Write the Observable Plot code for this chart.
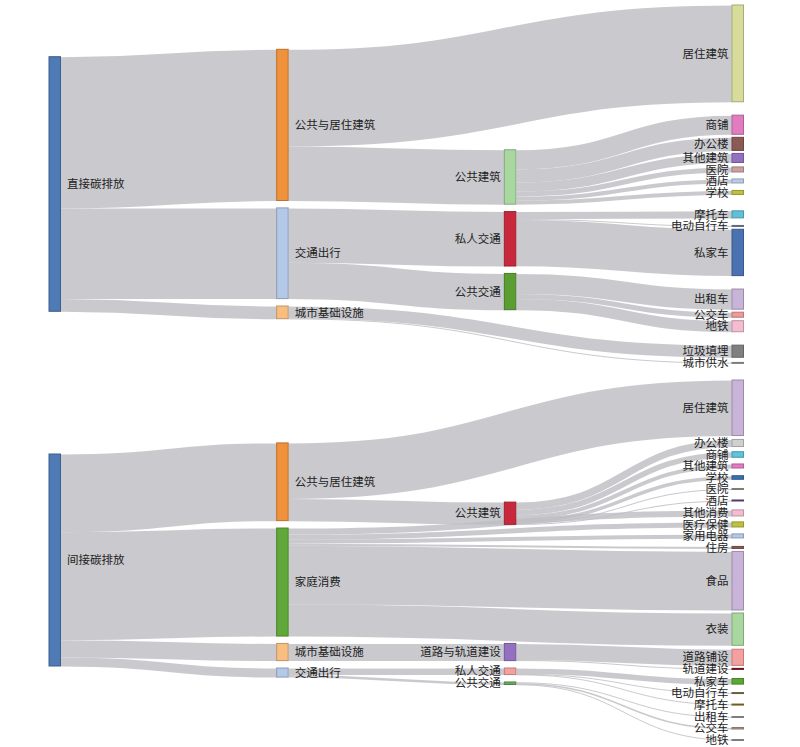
<!DOCTYPE html>
<html><head><meta charset="utf-8">
<script src="https://cdn.jsdelivr.net/npm/d3@7"></script>
<script src="https://cdn.jsdelivr.net/npm/@observablehq/plot@0.6"></script>
<style>body{margin:0;background:#fff}</style>
</head><body><div id="chart"></div>
<script>
// ---------- DATA: 直接碳排放 (top) ----------
const topNodes = ["直接碳排放","公共与居住建筑","交通出行","城市基础设施","公共建筑","私人交通","公共交通",
  "居住建筑","商铺","办公楼","其他建筑","医院","酒店","学校","摩托车","电动自行车","私家车","出租车","公交车","地铁","垃圾填埋","城市供水"];
const topSource = ["直接碳排放","直接碳排放","直接碳排放","公共与居住建筑","公共与居住建筑","交通出行","交通出行","城市基础设施","城市基础设施",
  "公共建筑","公共建筑","公共建筑","公共建筑","公共建筑","公共建筑","私人交通","私人交通","私人交通","公共交通","公共交通","公共交通"];
const topTarget = ["公共与居住建筑","交通出行","城市基础设施","居住建筑","公共建筑","私人交通","公共交通","垃圾填埋","城市供水",
  "商铺","办公楼","其他建筑","医院","酒店","学校","摩托车","电动自行车","私家车","出租车","公交车","地铁"];
const topValue = [150,90,12.6,96,54,54,36,12,0.6,19,13,9,5,4,4,7,0.8,46,20,5,11];

// ---------- DATA: 间接碳排放 (bottom) ----------
const botNodes = ["间接碳排放","公共与居住建筑","家庭消费","城市基础设施","交通出行","公共建筑","道路与轨道建设","私人交通","公共交通",
  "居住建筑","办公楼","商铺","其他建筑","学校","医院","酒店","其他消费","医疗保健","家用电器","住房","食品","衣装",
  "道路铺设","轨道建设","私家车","电动自行车","摩托车","出租车","公交车","地铁"];
const botSource = ["间接碳排放","间接碳排放","间接碳排放","间接碳排放","公共与居住建筑","公共与居住建筑",
  "公共建筑","公共建筑","公共建筑","公共建筑","公共建筑","公共建筑",
  "家庭消费","家庭消费","家庭消费","家庭消费","家庭消费","家庭消费",
  "城市基础设施","道路与轨道建设","道路与轨道建设","交通出行","交通出行",
  "私人交通","私人交通","私人交通","公共交通","公共交通","公共交通"];
const botTarget = ["公共与居住建筑","家庭消费","城市基础设施","交通出行","居住建筑","公共建筑",
  "办公楼","商铺","其他建筑","学校","医院","酒店",
  "其他消费","医疗保健","家用电器","住房","食品","衣装",
  "道路与轨道建设","道路铺设","轨道建设","私人交通","公共交通",
  "私家车","电动自行车","摩托车","出租车","公交车","地铁"];
const botValue = [77,107,17,9,55,22, 7,5.5,4,3.5,1,1, 6,5,4,2,58,32, 17,16,1,6.5,2.5, 5.5,0.5,0.5,0.5,1.5,0.5];

// ---------- STYLE ----------
const topColors = {"直接碳排放":"#4e7ab5","公共与居住建筑":"#f0913b","交通出行":"#b4c8e8","城市基础设施":"#f8bd80",
  "公共建筑":"#a8d8a0","私人交通":"#c8283c","公共交通":"#5a9e32","居住建筑":"#d8dc9a","商铺":"#e07cbf","办公楼":"#8a5a55",
  "其他建筑":"#9470c0","医院":"#c9a0a0","酒店":"#b8cce8","学校":"#c0c040","摩托车":"#60c0d8","电动自行车":"#7a8a9a",
  "私家车":"#4a72b0","出租车":"#c8b4d8","公交车":"#f09a98","地铁":"#f4bcd0","垃圾填埋":"#808080","城市供水":"#a0a0a0"};
const botColors = {"间接碳排放":"#4e7ab5","公共与居住建筑":"#f0913b","家庭消费":"#60a83a","城市基础设施":"#f8bd80","交通出行":"#b4c8e8",
  "公共建筑":"#c8283c","道路与轨道建设":"#9470c0","私人交通":"#f4a09e","公共交通":"#6aaa5a","居住建筑":"#c8b4d8","办公楼":"#d0d0d0",
  "商铺":"#5cc4dc","其他建筑":"#e07cbf","学校":"#3c70b0","医院":"#a0a090","酒店":"#6a4a90","其他消费":"#f4bcd0","医疗保健":"#c0c040",
  "家用电器":"#b4c8e8","住房":"#8a5a55","食品":"#c8b4d8","衣装":"#a8d8a0","道路铺设":"#f4a09e","轨道建设":"#8b1a2a","私家车":"#5aa832",
  "电动自行车":"#8a7a50","摩托车":"#8a7a30","出租车":"#a0a0a8","公交车":"#b09890","地铁":"#a0a0a8"};

const NODE_W = 11.5, PAD = 7.4, LABEL_H = 11.5, GMIN = 3, FONT = 11.5;

// ---------- Sankey layout (justified columns, link order = data order) ----------
function sankeyLayout(names, src, tgt, val, X0, X1, Y0, Y1) {
  const nodes = names.map((name, index) => ({name, index, sourceLinks: [], targetLinks: []}));
  const byName = new Map(nodes.map(n => [n.name, n]));
  const links = src.map((s, i) => ({source: byName.get(s), target: byName.get(tgt[i]), value: val[i], index: i}));
  for (const l of links) { l.source.sourceLinks.push(l); l.target.targetLinks.push(l); }
  for (const n of nodes) n.value = Math.max(d3.sum(n.sourceLinks, l => l.value), d3.sum(n.targetLinks, l => l.value));
  let current = new Set(nodes), next = new Set(), x = 0;
  while (current.size) {
    for (const n of current) { n.depth = x; for (const l of n.sourceLinks) next.add(l.target); }
    x++; current = next; next = new Set();
  }
  const nCols = d3.max(nodes, n => n.depth) + 1;
  const kx = (X1 - X0 - NODE_W) / (nCols - 1);
  for (const n of nodes) { n.layer = n.sourceLinks.length ? n.depth : nCols - 1; n.x0 = X0 + n.layer * kx; n.x1 = n.x0 + NODE_W; }
  const columns = d3.range(nCols).map(i => nodes.filter(n => n.layer === i));
  const py = PAD;
  const ky = d3.min(columns, c => (Y1 - Y0 - (c.length - 1) * py) / d3.sum(c, d => d.value));
  for (const l of links) l.width = l.value * ky;
  const place = (n, y) => { n.y0 = y; n.y1 = y + n.value * ky; };
  // first column: centred in the extent
  const c0 = columns[0];
  let y = Y0 + (Y1 - Y0 - (d3.sum(c0, d => d.value) * ky + (c0.length - 1) * py)) / 2;
  for (const n of c0) { place(n, y); y = n.y1 + py; }
  // last column: label-aware gaps, spare room between groups of different parents
  const cl = columns[nCols - 1];
  const hs = cl.map(n => n.value * ky);
  const base = [], grp = [];
  for (let i = 0; i < cl.length - 1; ++i) {
    base.push(Math.max(GMIN, LABEL_H - (hs[i] + hs[i + 1]) / 2));
    grp.push(cl[i].targetLinks[0].source !== cl[i + 1].targetLinks[0].source);
  }
  const free = (Y1 - Y0) - d3.sum(hs) - d3.sum(base);
  const nb = grp.filter(Boolean).length;
  const gaps = free >= 0
    ? base.map((g, i) => g + (nb ? (grp[i] ? free / nb : 0) : free / base.length))
    : base.map(g => g * (Y1 - Y0 - d3.sum(hs)) / d3.sum(base));
  y = Y0;
  cl.forEach((n, i) => { place(n, y); y = n.y1 + (gaps[i] || 0); });
  // middle columns: follow incoming links, then resolve collisions
  function targetTop(source, target) {
    let t = source.y0 - (source.sourceLinks.length - 1) * py / 2;
    for (const l of source.sourceLinks) { if (l.target === target) break; t += l.width + py; }
    for (const l of target.targetLinks) { if (l.source === source) break; t -= l.width; }
    return t;
  }
  for (let i = 1; i < nCols - 1; ++i) {
    const col = columns[i];
    for (const n of col) {
      place(n, d3.sum(n.targetLinks, l => targetTop(l.source, n) * l.value) / d3.sum(n.targetLinks, l => l.value));
    }
    let yy = Y0;
    for (const n of col) { if (n.y0 < yy) place(n, yy); yy = n.y1 + py; }
    yy = Y1;
    for (let j = col.length - 1; j >= 0; --j) { const n = col[j]; if (n.y1 > yy) place(n, yy - n.value * ky); yy = n.y0 - py; }
  }
  for (const n of nodes) {
    let a = n.y0, b = n.y0;
    for (const l of n.sourceLinks) { l.y0 = a + l.width / 2; a += l.width; }
    for (const l of n.targetLinks) { l.y1 = b + l.width / 2; b += l.width; }
  }
  return {nodes, links, nCols};
}

const T = sankeyLayout(topNodes, topSource, topTarget, topValue, 49, 743.5, 5, 363);
const B = sankeyLayout(botNodes, botSource, botTarget, botValue, 49, 743.5, 380, 740);
T.nodes.forEach(n => n.color = topColors[n.name]);
B.nodes.forEach(n => n.color = botColors[n.name]);
const allNodes = [...T.nodes.map(n => ({...n, nCols: T.nCols})), ...B.nodes.map(n => ({...n, nCols: B.nCols}))];
const allLinks = [...T.links, ...B.links];
const leftSide = n => n.layer < n.nCols / 2;

const chart = Plot.plot({
  width: 800, height: 747, margin: 0,
  x: {domain: [0, 800], range: [0, 800], axis: null},
  y: {domain: [0, 747], range: [0, 747], axis: null},
  color: {type: "identity"},
  style: {fontFamily: "'Noto Sans CJK SC', 'Noto Sans', sans-serif", background: "#fff"},
  marks: [
    Plot.link(allLinks, {
      x1: d => d.source.x1, y1: d => d.y0, x2: d => d.target.x0, y2: d => d.y1,
      curve: "bump-x", stroke: "#bdbdc2", strokeOpacity: 0.8,
      strokeWidth: d => Math.max(1, d.width)
    }),
    Plot.rect(allNodes, {
      x1: "x0", x2: "x1", y1: "y0", y2: d => Math.max(d.y1, d.y0 + 1),
      fill: "color", stroke: d => d3.color(d.color).darker(0.7).formatHex(), strokeWidth: 1
    }),
    Plot.text(allNodes.filter(leftSide), {
      x: d => d.x1 + 6, y: d => (d.y0 + d.y1) / 2, text: "name",
      textAnchor: "start", fontSize: FONT, fill: "#222"
    }),
    Plot.text(allNodes.filter(n => !leftSide(n)), {
      x: d => d.x0 - 4, y: d => (d.y0 + d.y1) / 2, text: "name",
      textAnchor: "end", fontSize: FONT, fill: "#222"
    })
  ]
});
document.getElementById("chart").append(chart);
</script>
</body></html>
